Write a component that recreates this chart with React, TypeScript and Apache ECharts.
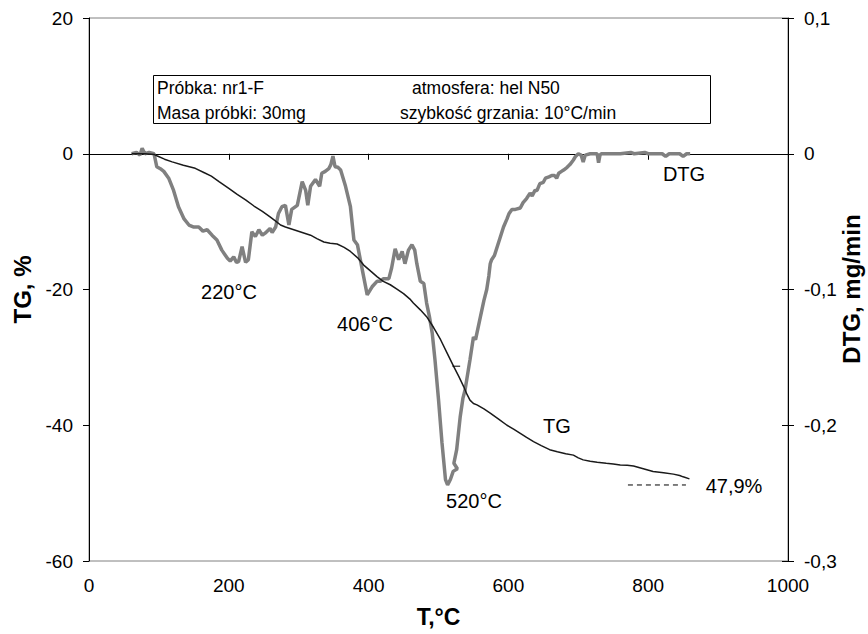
import React, { useEffect, useRef } from "react";
import * as echarts from "echarts";

// DTG curve: [T (°C), DTG (mg/min)]
const dtgData: number[][] = [
  [61, 0], [68, 0.001], [73, -0.001], [76, 0.004], [80, 0], [86, 0.001], [93, 0],
  [97, -0.0096], [102, -0.011], [107, -0.013], [114, -0.018], [121, -0.027], [128, -0.039],
  [136, -0.048], [143, -0.0525], [150, -0.054], [157, -0.054], [163, -0.057], [169, -0.056],
  [176, -0.06], [183, -0.0635], [190, -0.071], [194, -0.074], [198, -0.077], [202, -0.079],
  [207, -0.076], [211, -0.08], [214, -0.0795], [219, -0.0685], [224, -0.08], [228, -0.078],
  [233, -0.0575], [238, -0.061], [243, -0.056], [248, -0.06], [252, -0.0585], [259, -0.055],
  [262, -0.058], [267, -0.054], [271, -0.044], [276, -0.039], [281, -0.038], [286, -0.0525],
  [290, -0.041], [298, -0.038], [305, -0.0206], [310, -0.027], [313, -0.038], [317, -0.024],
  [324, -0.019], [330, -0.024], [333, -0.0144], [338, -0.013], [343, -0.011], [346, -0.008],
  [349, -0.0017], [352, -0.0096], [356, -0.01], [360, -0.012], [367, -0.024], [374, -0.039],
  [379, -0.0635], [384, -0.067], [391, -0.0856], [398, -0.104], [405, -0.098], [412, -0.094],
  [417, -0.094], [421, -0.092], [429, -0.092], [433, -0.084], [438, -0.07], [443, -0.078],
  [448, -0.072], [452, -0.081], [457, -0.071], [462, -0.067], [466, -0.071], [469, -0.081],
  [474, -0.094], [479, -0.0955], [483, -0.11], [487, -0.12], [491, -0.132], [495, -0.152],
  [500, -0.181], [505, -0.213], [510, -0.24], [513, -0.244], [517, -0.24], [521, -0.234],
  [527, -0.232], [522, -0.228], [526, -0.218], [531, -0.194], [535, -0.18], [538, -0.174],
  [545, -0.152], [550, -0.135], [553, -0.137], [560, -0.12], [565, -0.108], [569, -0.1],
  [572, -0.09], [574, -0.081], [576, -0.078], [580, -0.075], [584, -0.0685], [588, -0.062],
  [593, -0.054], [598, -0.048], [601, -0.044], [605, -0.041], [610, -0.041], [617, -0.04],
  [621, -0.036], [626, -0.033], [631, -0.029], [634, -0.031], [638, -0.027], [641, -0.027],
  [645, -0.022], [650, -0.021], [653, -0.018], [658, -0.017], [662, -0.016], [666, -0.016],
  [669, -0.018], [672, -0.0144], [676, -0.013], [679, -0.012], [684, -0.01], [688, -0.008],
  [693, -0.0046], [696, -0.002], [700, 0], [704, -0.001], [707, -0.006], [710, -0.001],
  [717, 0], [722, 0], [727, 0], [729, -0.0066], [731, -0.001], [733, 0], [745, 0],
  [760, 0], [775, 0.001], [780, 0], [795, 0.001], [800, 0], [820, 0], [825, -0.002],
  [830, 0], [845, 0], [850, -0.002], [855, 0], [860, 0],
];

// TG curve: [T (°C), TG (%)]
const tgData: number[][] = [
  [61, 0], [80, 0], [93, -0.1], [97, -0.3], [108, -0.8], [119, -1.2], [135, -1.7],
  [152, -2.15], [165, -2.8], [175, -3.3], [186, -4.1], [200, -5.1], [212, -6.0], [224, -6.8],
  [236, -7.7], [248, -8.5], [259, -9.3], [268, -10.0], [274, -10.5], [281, -10.8],
  [293, -11.2], [305, -11.6], [317, -12.0], [326, -12.5], [336, -13.0], [345, -13.2],
  [355, -13.3], [365, -13.8], [374, -14.4], [384, -15.3], [393, -16.4], [403, -17.3],
  [412, -18.1], [421, -18.8], [431, -19.3], [440, -19.9], [450, -20.6], [460, -21.5],
  [464, -22.0], [474, -23.0], [483, -24.0], [493, -25.6], [503, -27.4], [512, -29.3],
  [522, -31.4], [529, -32.8], [536, -34.3], [541, -35.5], [545, -36.3], [550, -36.8],
  [555, -37.0], [565, -37.6], [574, -38.2], [586, -39.1], [598, -40.0], [608, -40.6],
  [617, -41.2], [626, -41.8], [636, -42.4], [647, -43.0], [659, -43.6], [670, -43.9],
  [682, -44.2], [693, -44.4], [700, -44.8], [707, -45.1], [717, -45.3], [727, -45.45],
  [740, -45.6], [750, -45.7], [760, -45.85], [770, -45.9], [779, -46.0], [793, -46.4],
  [807, -46.8], [822, -47.0], [836, -47.2], [845, -47.4], [850, -47.6], [859, -47.9],
];

// residue marker (dashed) and a small stray tick mark
const residueLine: number[][] = [[771, -48.8], [854, -48.8]];
const strayTick: number[][] = [[520, -31.3], [531, -31.3]];

const FONT = "Liberation Sans, Arial, sans-serif";
const TICK_FS = 19;
const BOX_FS = 17.5;
const NOTE_FS = 20;

export default function App() {
  const ref = useRef<HTMLDivElement>(null);
  useEffect(() => {
    if (!ref.current) return;
    const chart = echarts.init(ref.current, undefined, { renderer: "svg" });
    const txt = (text: string, x: number, y: number, align = "left", size = NOTE_FS) => ({
      type: "text",
      x,
      y,
      style: { text, fill: "#000", font: `${size}px ${FONT}`, align, verticalAlign: "middle" },
      z: 10,
    });
    chart.setOption({
      animation: false,
      textStyle: { fontFamily: FONT },
      grid: {
        left: 89,
        right: 80,
        top: 18,
        bottom: 73,
        show: true,
        borderColor: "#808080",
        borderWidth: 1,
        containLabel: false,
        outerBoundsMode: "none",
      },
      xAxis: {
        type: "value",
        min: 0,
        max: 1000,
        interval: 200,
        name: "T,°C",
        nameLocation: "middle",
        nameGap: 44,
        nameTextStyle: { fontSize: 23, fontWeight: "bold", color: "#000", fontFamily: FONT },
        axisLine: { lineStyle: { color: "#000", width: 1 } },
        axisTick: { show: true, length: 6, lineStyle: { color: "#000" } },
        axisLabel: { fontSize: TICK_FS, color: "#000", margin: 15, fontFamily: FONT, formatter: (v: number) => String(v) },
        splitLine: { show: false },
      },
      yAxis: [
        {
          type: "value",
          min: -60,
          max: 20,
          interval: 20,
          position: "left",
          name: "TG, %",
          nameLocation: "middle",
          nameRotate: 90,
          nameGap: 50,
          nameTextStyle: { fontSize: 24, fontWeight: "bold", color: "#000", fontFamily: FONT },
          axisLine: { show: true, lineStyle: { color: "#000", width: 1 } },
          axisTick: { show: true, length: 6, lineStyle: { color: "#000" } },
          axisLabel: { fontSize: TICK_FS, color: "#000", margin: 16, fontFamily: FONT },
          splitLine: { show: false },
        },
        {
          type: "value",
          min: -0.3,
          max: 0.1,
          interval: 0.1,
          position: "right",
          axisLine: { show: true, lineStyle: { color: "#000", width: 1 } },
          axisTick: { show: true, length: 6, lineStyle: { color: "#000" } },
          axisLabel: {
            fontSize: TICK_FS,
            color: "#000",
            margin: 16,
            fontFamily: FONT,
            formatter: (v: number) => {
              const r = Math.round(v * 10) / 10;
              return r === 0 ? "0" : String(r).replace(".", ",");
            },
          },
          splitLine: { show: false },
        },
        {
          type: "value",
          min: -0.3,
          max: 0.1,
          interval: 0.1,
          position: "right",
          axisLine: { show: false },
          axisTick: { show: true, inside: true, length: 6, lineStyle: { color: "#000" } },
          axisLabel: { show: false },
          splitLine: { show: false },
        },
      ],
      series: [
        {
          type: "line",
          name: "DTG",
          yAxisIndex: 1,
          data: dtgData,
          showSymbol: false,
          lineStyle: { color: "#808080", width: 3.5 },
          z: 3,
        },
        {
          type: "line",
          name: "TG",
          yAxisIndex: 0,
          data: tgData,
          showSymbol: false,
          lineStyle: { color: "#1a1a1a", width: 1.5 },
          z: 4,
        },
        {
          type: "line",
          yAxisIndex: 0,
          data: residueLine,
          showSymbol: false,
          lineStyle: { color: "#000", width: 1, type: [5, 4] },
          z: 4,
        },
        {
          type: "line",
          yAxisIndex: 0,
          data: strayTick,
          showSymbol: false,
          lineStyle: { color: "#000", width: 1 },
          z: 4,
        },
      ],
      graphic: [
        {
          type: "rect",
          shape: { x: 153.5, y: 75.5, width: 557, height: 48 },
          style: { fill: "#fff", stroke: "#000", lineWidth: 1 },
          z: 5,
        },
        txt("Próbka: nr1-F", 157, 88, "left", BOX_FS),
        txt("atmosfera: hel N50", 412, 88, "left", BOX_FS),
        txt("Masa próbki: 30mg", 157, 113, "left", BOX_FS),
        txt("szybkość grzania: 10°C/min", 400, 113, "left", BOX_FS),
        txt("220°C", 229, 292, "center"),
        txt("406°C", 365, 324, "center"),
        txt("520°C", 474, 501, "center"),
        txt("TG", 557, 426, "center"),
        txt("47,9%", 734, 486, "center"),
        txt("DTG", 684, 174, "center"),
        {
          type: "text",
          x: 851,
          y: 289,
          rotation: Math.PI / 2,
          style: {
            text: "DTG, mg/min",
            fill: "#000",
            font: `bold 24px ${FONT}`,
            align: "center",
            verticalAlign: "middle",
          },
          z: 10,
        },
      ],
    });
    return () => chart.dispose();
  }, []);
  return <div ref={ref} style={{ position: "absolute", left: 0, top: 0, width: 868, height: 634 }} />;
}
